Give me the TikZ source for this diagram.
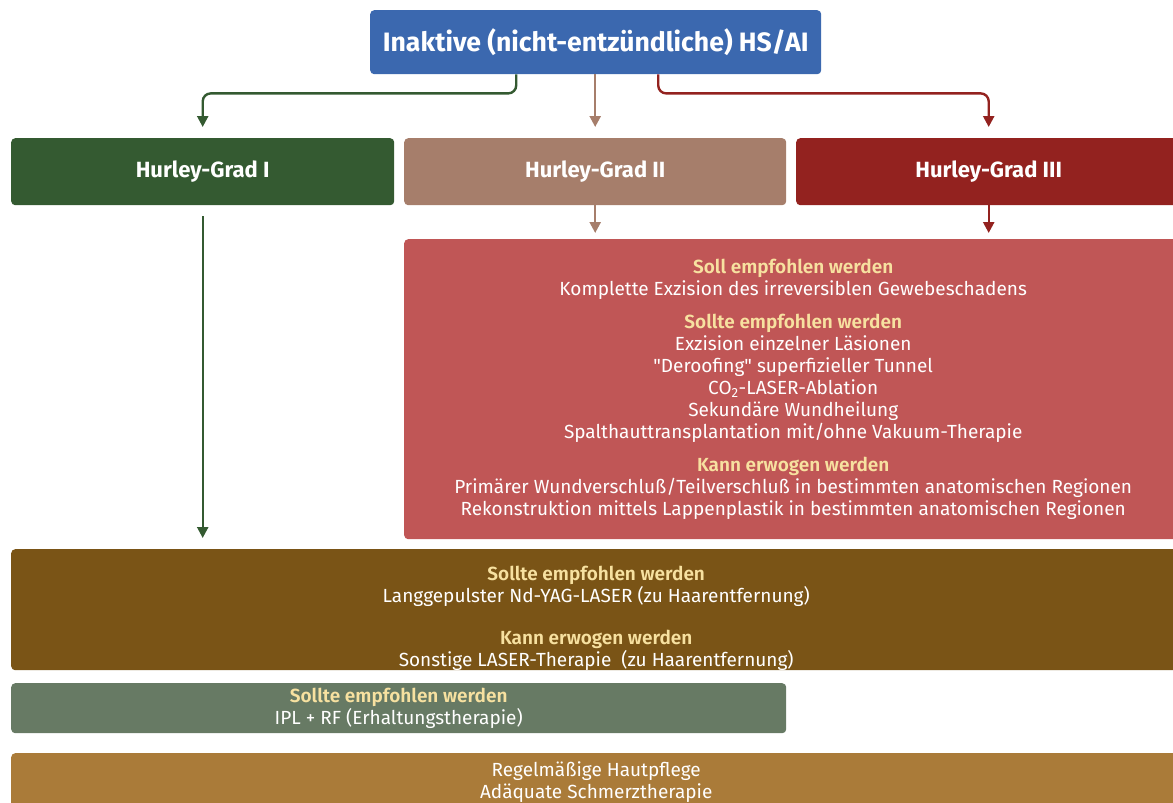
\documentclass[tikz,border=0pt]{standalone}
\usepackage{fontspec}
\setmainfont{Fira Sans}
\newfontfamily\bodyfont{Fira Sans}
\newfontfamily\headfont{Fira Sans SemiBold}
\usetikzlibrary{arrows.meta}
\definecolor{cblue}{HTML}{3B68AF}
\definecolor{cgreen}{HTML}{345A31}
\definecolor{ctaupe}{HTML}{A67E6B}
\definecolor{cdred}{HTML}{93221F}
\definecolor{cred}{HTML}{C05656}
\definecolor{cbrown}{HTML}{7A5416}
\definecolor{cgray}{HTML}{677A64}
\definecolor{ctan}{HTML}{AA7B39}
\definecolor{cyel}{HTML}{F7E1A0}
\newcommand{\hd}[1]{{\headfont\color{cyel}#1}}
\begin{document}
\begin{tikzpicture}[x=1pt,y=-1pt,
  box/.style={rounded corners=4pt, anchor=north west, inner sep=0pt, text=white, align=center},
  title/.style={font=\bfseries\fontsize{22}{26}\selectfont},
  body/.style={font=\bodyfont\fontsize{19}{22}\selectfont},
  txt/.style={body, text=white, align=center, inner sep=0pt},
  conn/.style={line width=2.4pt, -{Triangle[width=11pt,length=11pt]}},
  ]
\useasboundingbox (0,0) rectangle (1173,803);
\clip (0,0) rectangle (1173,803);
\node[box, fill=cblue, minimum width=451pt, minimum height=64pt, font=\bfseries\fontsize{26.6}{30}\selectfont] (top) at (370,10) {Inaktive (nicht-entzündliche) HS/AI};
\node[box, title, fill=cgreen, minimum width=383pt, minimum height=67pt] (h1) at (11,138) {Hurley-Grad I};
\node[box, title, fill=ctaupe, minimum width=382pt, minimum height=67pt] (h2) at (404,138) {Hurley-Grad II};
\node[box, title, fill=cdred, minimum width=385pt, minimum height=67pt] (h3) at (796,138) {Hurley-Grad III};
\node[box, body, fill=cred, minimum width=778pt, minimum height=300pt] (surg) at (404,239) {%
\hd{Soll empfohlen werden}\\
Komplette Exzision des irreversiblen Gewebeschadens\\[11pt]
\hd{Sollte empfohlen werden}\\
Exzision einzelner Läsionen\\
"Deroofing" superfizieller Tunnel\\
CO\textsubscript{2}-LASER-Ablation\\
Sekundäre Wundheilung\\
Spalthauttransplantation mit/ohne Vakuum-Therapie\\[11pt]
\hd{Kann erwogen werden}\\
Primärer Wundverschluß/Teilverschluß in bestimmten anatomischen Regionen\\
Rekonstruktion mittels Lappenplastik in bestimmten anatomischen Regionen};
\node[box, fill=cbrown, minimum width=1170pt, minimum height=121pt] (laser) at (11,549) {};
\node[txt] (lasertxt) at ([yshift=-9pt]laser.center) {%
\hd{Sollte empfohlen werden}\\
Langgepulster Nd-YAG-LASER (zu Haarentfernung)\\[20pt]
\hd{Kann erwogen werden}\\
Sonstige LASER-Therapie~ (zu Haarentfernung)};
\node[box, body, fill=cgray, minimum width=775pt, minimum height=50pt] (ipl) at (11,683) {%
\hd{Sollte empfohlen werden}\\
IPL + RF (Erhaltungstherapie)};
\node[box, body, fill=ctan, minimum width=1170pt, minimum height=57pt] (care) at (11,753) {%
Regelmäßige Hautpflege\\
Adäquate Schmerztherapie};
% connectors
\draw[conn, cgreen, rounded corners=8pt, shorten >=11pt] ([xshift=-79.5pt]top.south) -- ++(0,19) -| (h1.north);
\draw[conn, ctaupe, shorten >=11pt] (top.south -| h2.north) -- (h2.north);
\draw[conn, cdred, rounded corners=8pt, shorten >=11pt] ([xshift=62.5pt]top.south) -- ++(0,19) -| (h3.north);
\draw[conn, ctaupe, shorten >=6pt] (h2.south) -- (h2.south |- surg.north);
\draw[conn, cdred, shorten >=6pt] (h3.south) -- (h3.south |- surg.north);
\draw[conn, cgreen, shorten <=11pt, shorten >=11pt] (h1.south) -- (h1.south |- laser.north);
\end{tikzpicture}
\end{document}
